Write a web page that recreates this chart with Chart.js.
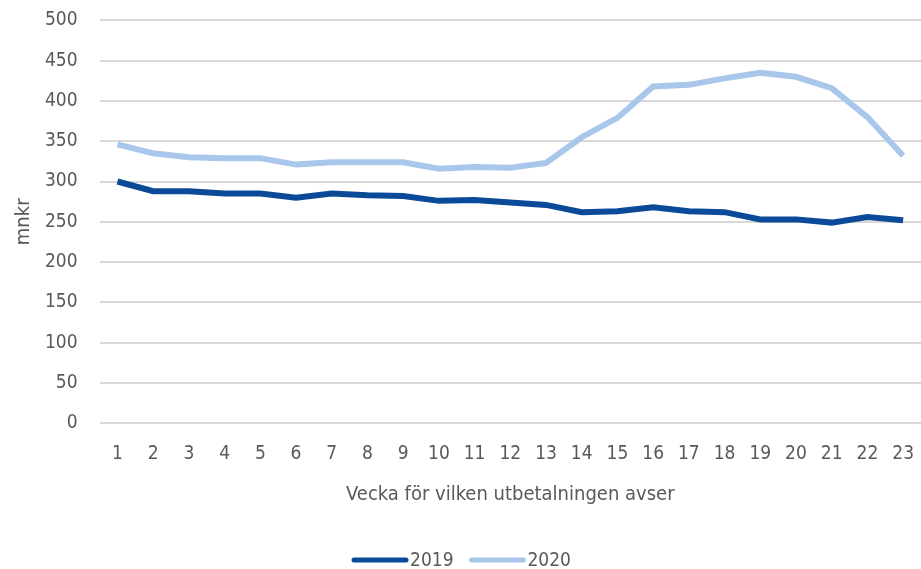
<!DOCTYPE html>
<html>
<head>
<meta charset="utf-8">
<script src="https://cdn.jsdelivr.net/npm/chart.js@4"></script>
<style>
  html, body { margin: 0; padding: 0; background: #fff; overflow: hidden; }
  #wrap { width: 921px; height: 569px; }
</style>
</head>
<body>
<div id="wrap"><canvas id="chart"></canvas></div>
<script>
const weeks = ['1','2','3','4','5','6','7','8','9','10','11','12','13','14','15','16','17','18','19','20','21','22','23'];
const values2019 = [300, 288, 288, 285, 285, 280, 285, 283, 282, 276, 277, 274, 271, 262, 263, 268, 263, 262, 253, 253, 249, 256, 252];
const values2020 = [346, 335, 330, 329, 329, 321, 324, 324, 324, 316, 318, 317, 323, 355, 379, 418, 420, 428, 435, 430, 416, 380, 332];

const FONT = "'Liberation Sans Narrow', 'DejaVu Sans Condensed', sans-serif";
const TEXT = '#595959';
const HIDDEN = 'rgba(0,0,0,0)';

Chart.defaults.font.family = FONT;
Chart.defaults.color = TEXT;

// excel-style legend: thick line sample + label, centred under the chart
const lineLegend = {
  id: 'lineLegend',
  afterDraw(chart, args, opts) {
    const ctx = chart.ctx;
    const sets = chart.data.datasets;
    ctx.save();
    ctx.font = opts.size + 'px ' + FONT;
    ctx.textBaseline = 'middle';
    ctx.textAlign = 'left';
    const widths = sets.map(ds => opts.lineLen + opts.textGap + ctx.measureText(ds.label).width);
    const total = widths.reduce((a, b) => a + b, 0) + opts.itemGap * (sets.length - 1);
    let x = (chart.width - total) / 2 + opts.shift;
    const y = opts.y;
    sets.forEach((ds, i) => {
      ctx.beginPath();
      ctx.moveTo(x, y);
      ctx.lineTo(x + opts.lineLen, y);
      ctx.lineWidth = 5;
      ctx.lineCap = 'round';
      ctx.strokeStyle = ds.borderColor;
      ctx.stroke();
      ctx.fillStyle = TEXT;
      ctx.fillText(ds.label, x + opts.lineLen + opts.textGap, y + 1);
      x += widths[i] + opts.itemGap;
    });
    ctx.restore();
  }
};

new Chart(document.getElementById('chart'), {
  type: 'line',
  data: {
    labels: weeks,
    datasets: [
      {
        label: '2019',
        data: values2019,
        borderColor: '#0b4a99',
        backgroundColor: '#0b4a99',
        borderWidth: 6,
        pointRadius: 0,
        tension: 0
      },
      {
        label: '2020',
        data: values2020,
        borderColor: '#a9c7eb',
        backgroundColor: '#a9c7eb',
        borderWidth: 6,
        pointRadius: 0,
        tension: 0
      }
    ]
  },
  options: {
    responsive: true,
    maintainAspectRatio: false,
    animation: false,
    layout: { padding: { top: 0, right: 0, bottom: 62, left: 8 } },
    plugins: {
      legend: { display: false },
      tooltip: { enabled: false },
      lineLegend: { y: 560, size: 19, lineLen: 52, textGap: 4, itemGap: 18, shift: 2 }
    },
    scales: {
      x: {
        offset: true,
        grid: { display: true, drawOnChartArea: false, drawTicks: true, tickLength: 12, tickColor: HIDDEN },
        border: { display: false },
        ticks: { font: { size: 19 }, color: TEXT, maxRotation: 0, autoSkip: false, padding: 7 },
        title: { display: true, text: 'Vecka för vilken utbetalningen avser', font: { size: 20 }, color: TEXT, padding: { top: 11, bottom: 0 } }
      },
      y: {
        min: 0,
        max: 500,
        grid: { color: '#d9d9d9', lineWidth: 2, drawTicks: true, tickLength: 13, tickColor: HIDDEN },
        border: { display: false },
        ticks: { stepSize: 50, font: { size: 19 }, color: TEXT, padding: 9 },
        title: { display: true, text: 'mnkr', font: { size: 20 }, color: TEXT, padding: { bottom: 0 } }
      }
    }
  },
  plugins: [lineLegend]
});
</script>
</body>
</html>
